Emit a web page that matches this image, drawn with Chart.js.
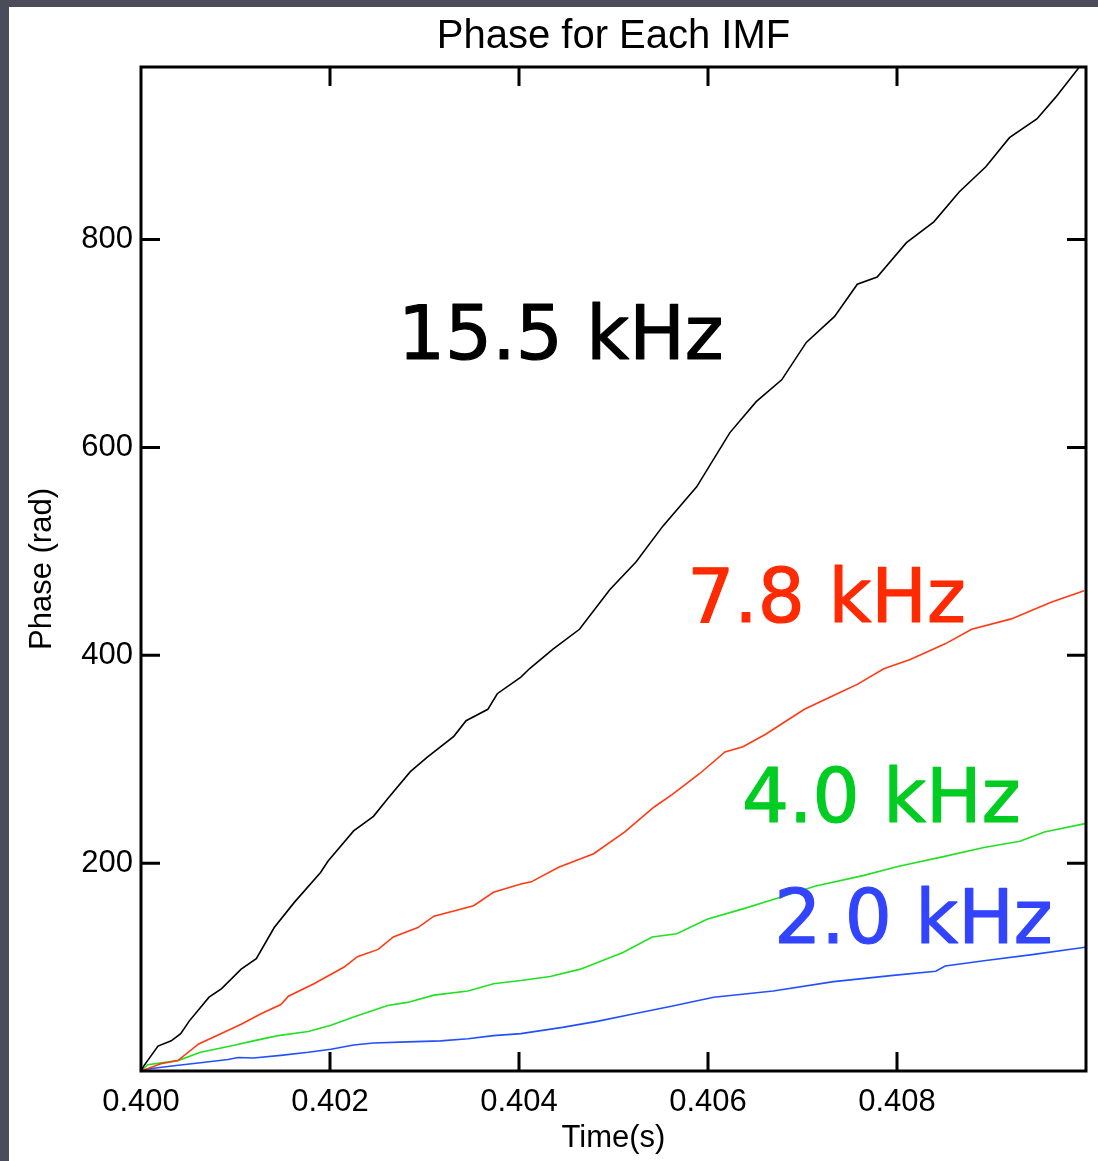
<!DOCTYPE html>
<html>
<head>
<meta charset="utf-8">
<script src="https://cdn.jsdelivr.net/npm/chart.js@4.4.1/dist/chart.umd.min.js"></script>
<style>
  html, body { margin: 0; padding: 0; background: #4a4c59; width: 1098px; height: 1161px; overflow: hidden; }
  #wrap { position: absolute; left: 9px; top: 7px; width: 1089px; height: 1154px; background: #fff; }
</style>
</head>
<body>
<div id="wrap"><canvas id="c" width="1089" height="1154"></canvas></div>
<script>
// values
const blackTime = [0.4000, 0.40003, 0.40018, 0.40032, 0.40042, 0.40051, 0.40072, 0.40085, 0.40106, 0.40122, 0.40141, 0.40162, 0.40190, 0.40198, 0.40225, 0.40246, 0.40261, 0.40285, 0.40303, 0.40331, 0.40344, 0.40367, 0.40377, 0.40402, 0.40411, 0.40436, 0.40464, 0.40496, 0.40524, 0.40552, 0.40588, 0.40623, 0.40651, 0.40678, 0.40704, 0.40734, 0.40758, 0.40779, 0.40810, 0.40839, 0.40866, 0.40894, 0.40919, 0.40948, 0.40968, 0.40993];
const blackPhase = [0, 5, 24, 29, 36, 48, 71, 79, 98, 108, 138, 162, 191, 202, 231, 245, 262, 288, 302, 322, 337, 348, 363, 379, 387, 406, 425, 463, 490, 524, 562, 614, 644, 665, 701, 726, 757, 764, 797, 817, 846, 870, 898, 916, 937, 966];

const redTime = [0.4000, 0.40021, 0.40039, 0.40061, 0.40085, 0.40106, 0.40127, 0.40148, 0.40156, 0.40183, 0.40215, 0.40229, 0.40251, 0.40267, 0.40293, 0.40310, 0.40352, 0.40373, 0.40402, 0.40413, 0.40442, 0.40479, 0.40512, 0.40543, 0.40562, 0.40591, 0.40618, 0.40637, 0.40661, 0.40702, 0.40739, 0.40758, 0.40786, 0.40814, 0.40851, 0.40879, 0.40921, 0.40963, 0.40998];
const redPhase = [0, 7, 10, 26, 36, 45, 55, 64, 72, 84, 100, 110, 117, 129, 138, 149, 159, 172, 180, 182, 196, 209, 230, 254, 266, 286, 307, 312, 324, 348, 364, 372, 387, 396, 411, 425, 435, 451, 462];

const greenTime = [0.4000, 0.40007, 0.40039, 0.40063, 0.40095, 0.40119, 0.40145, 0.40177, 0.40201, 0.40225, 0.40261, 0.40282, 0.40310, 0.40346, 0.40373, 0.40402, 0.40433, 0.40465, 0.40510, 0.40541, 0.40567, 0.40599, 0.40637, 0.40669, 0.40714, 0.40764, 0.40802, 0.40848, 0.40892, 0.40930, 0.40956, 0.40999];
const greenPhase = [0, 6, 10, 18, 24, 29, 34, 38, 44, 52, 63, 66, 73, 77, 84, 87, 91, 98, 114, 129, 132, 146, 156, 165, 178, 188, 197, 206, 215, 221, 230, 238];

const blueTime = [0.4000, 0.40007, 0.40035, 0.40063, 0.40092, 0.40103, 0.40119, 0.40148, 0.40177, 0.40201, 0.40225, 0.40246, 0.40282, 0.40317, 0.40346, 0.40373, 0.40402, 0.40446, 0.40484, 0.40522, 0.40560, 0.40606, 0.40669, 0.40733, 0.40796, 0.40841, 0.40851, 0.40892, 0.40943, 0.40999];
const bluePhase = [0, 2, 5, 8, 11, 13, 12.5, 15, 18, 21, 25, 27, 28, 29, 31, 34, 36, 42, 48, 55, 62, 71, 77, 86, 92, 96, 101, 106, 112, 119];

const freqLabels = ['15.5 kHz', '7.8 kHz', '4.0 kHz', '2.0 kHz'];
const xTicks = [0.400, 0.402, 0.404, 0.406, 0.408];
const yTicks = [200, 400, 600, 800];

const toPoints = (t, p) => t.map((v, i) => ({ x: v, y: p[i] }));

const lineSet = (label, t, p, color) => ({
  label: label,
  data: toPoints(t, p),
  borderColor: color,
  borderWidth: 1.6,
  pointRadius: 0,
  showLine: true,
  tension: 0,
  fill: false
});

const font = "'Liberation Sans', Arial, Helvetica, sans-serif";

// frame, inward ticks and the kHz labels
const framePlugin = {
  id: 'frame',
  afterDatasetsDraw(chart) {
    const ctx = chart.ctx;
    const a = chart.chartArea;
    const xs = chart.scales.x, ys = chart.scales.y;
    const len = 19;
    ctx.save();
    ctx.strokeStyle = '#000';
    ctx.lineWidth = 3;
    ctx.beginPath();
    xTicks.forEach(v => {
      if (v <= xs.min) return;
      const px = xs.getPixelForValue(v);
      ctx.moveTo(px, a.bottom); ctx.lineTo(px, a.bottom - len);
      ctx.moveTo(px, a.top); ctx.lineTo(px, a.top + len);
    });
    yTicks.forEach(v => {
      const py = ys.getPixelForValue(v);
      ctx.moveTo(a.left, py); ctx.lineTo(a.left + len, py);
      ctx.moveTo(a.right, py); ctx.lineTo(a.right - len, py);
    });
    ctx.stroke();
    ctx.strokeRect(a.left, a.top, a.right - a.left, a.bottom - a.top);

    // annotations placed in data coordinates
    const spots = [
      { x: 0.40272, y: 685, c: '#000000' },
      { x: 0.40578, y: 432, c: '#ff2a00' },
      { x: 0.40636, y: 240, c: '#00cc22' },
      { x: 0.40670, y: 123, c: '#3344ff' }
    ];
    ctx.font = "74px 'DejaVu Sans', sans-serif";
    ctx.textAlign = 'left';
    ctx.textBaseline = 'alphabetic';
    ctx.lineWidth = 1.2;
    ctx.lineJoin = 'round';
    spots.forEach((s, i) => {
      const px = xs.getPixelForValue(s.x), py = ys.getPixelForValue(s.y);
      ctx.fillStyle = s.c;
      ctx.strokeStyle = s.c;
      ctx.fillText(freqLabels[i], px, py);
      ctx.strokeText(freqLabels[i], px, py);
    });
    ctx.restore();
  }
};

new Chart(document.getElementById('c').getContext('2d'), {
  type: 'scatter',
  data: {
    datasets: [
      lineSet('15.5 kHz', blackTime, blackPhase, '#000000'),
      lineSet('7.8 kHz', redTime, redPhase, '#ff3a12'),
      lineSet('4.0 kHz', greenTime, greenPhase, '#22e022'),
      lineSet('2.0 kHz', blueTime, bluePhase, '#2250ff')
    ]
  },
  options: {
    responsive: false,
    animation: false,
    layout: { padding: { left: 0, right: 12, top: 0, bottom: 0 } },
    plugins: {
      legend: { display: false },
      tooltip: { enabled: false },
      title: {
        display: true,
        fullSize: false,
        text: 'Phase for Each IMF',
        color: '#000',
        font: { family: font, size: 40, weight: 'normal' },
        padding: { top: 6, bottom: 6 }
      }
    },
    scales: {
      x: {
        type: 'linear',
        min: 0.400,
        max: 0.410,
        afterFit(scale) { scale.height = 90; },
        afterBuildTicks(scale) { scale.ticks = xTicks.map(v => ({ value: v })); },
        grid: { display: false, drawTicks: false },
        border: { display: false },
        ticks: {
          color: '#000',
          padding: 13,
          maxRotation: 0,
          font: { family: font, size: 31 },
          callback: v => v.toFixed(3)
        },
        title: {
          display: true,
          text: 'Time(s)',
          color: '#000',
          font: { family: font, size: 31 },
          padding: { top: 0, bottom: 4 }
        }
      },
      y: {
        type: 'linear',
        min: 0,
        max: 966,
        afterFit(scale) { scale.width = 132; },
        afterBuildTicks(scale) { scale.ticks = yTicks.map(v => ({ value: v })); },
        grid: { display: false, drawTicks: false },
        border: { display: false },
        ticks: {
          color: '#000',
          padding: 8,
          font: { family: font, size: 31 },
          callback: v => String(v)
        },
        title: {
          display: true,
          text: 'Phase (rad)',
          color: '#000',
          font: { family: font, size: 31 },
          padding: { top: 15, bottom: 0 }
        }
      }
    }
  },
  plugins: [framePlugin]
});
</script>
</body>
</html>
